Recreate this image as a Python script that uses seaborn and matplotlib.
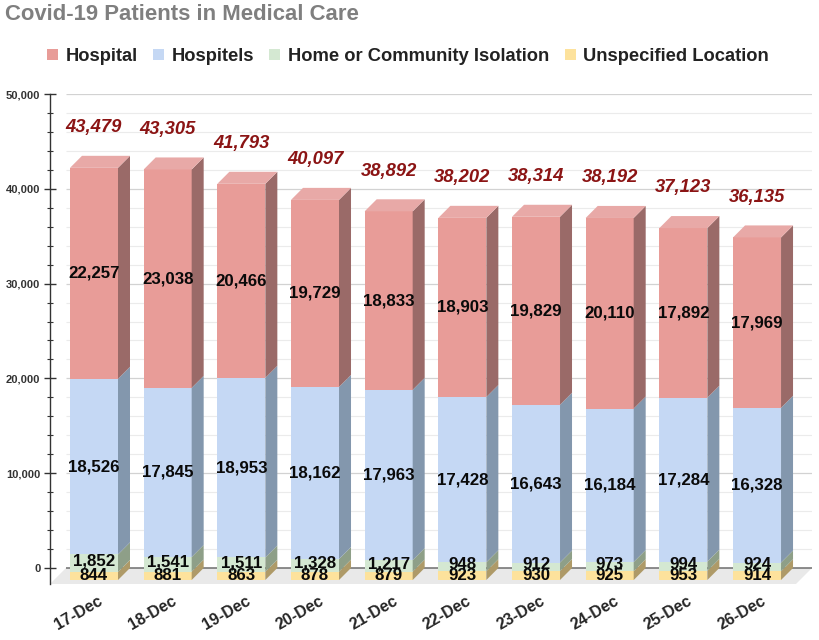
import numpy as np
import pandas as pd
import seaborn as sns
import matplotlib.pyplot as plt
from matplotlib.transforms import ScaledTranslation

days = ['17-Dec', '18-Dec', '19-Dec', '20-Dec', '21-Dec', '22-Dec', '23-Dec', '24-Dec', '25-Dec', '26-Dec']
hospital = [22257, 23038, 20466, 19729, 18833, 18903, 19829, 20110, 17892, 17969]
hospitels = [18526, 17845, 18953, 18162, 17963, 17428, 16643, 16184, 17284, 16328]
home = [1852, 1541, 1511, 1328, 1217, 948, 912, 973, 994, 924]
unspecified = [844, 881, 863, 878, 879, 923, 930, 925, 953, 914]
totals = [43479, 43305, 41793, 40097, 38892, 38202, 38314, 38192, 37123, 36135]

sns.set_theme(style="white")
plt.rcParams['font.family'] = ['Liberation Sans', 'DejaVu Sans']

df = pd.DataFrame({'day': days, 'Hospital': hospital, 'Hospitels': hospitels,
                   'Home or Community Isolation': home, 'Unspecified Location': unspecified})

# stacked from the bottom up: name, front, side, top
layers = [
    ('Unspecified Location', '#FDE29C', '#AE9A68', '#FDE9B8'),
    ('Home or Community Isolation', '#D4E8D2', '#8E9F88', '#E0EEDD'),
    ('Hospitels', '#C5D8F4', '#8397AD', '#D6E3F7'),
    ('Hospital', '#E89C98', '#9A6A68', '#E8A9A7'),
]

fig = plt.figure(figsize=(8.2, 6.4), dpi=100)
ax = fig.add_axes([50 / 820, (640 - 584) / 640, 762 / 820, 490 / 640])

# pixel scale of the chart: 473 px for 50,000 patients, 73.67 px per bar slot
px_y = 50000 / 473
px_x = 1 / 73.67
depth_x = 12 * px_x
depth_y = 12 * px_y
floor_x = 16 * px_x
floor_y = 16 * px_y
bar_w = 48 * px_x
base = -4 * px_y
xmin = -44 * px_x
xmax = xmin + 762 * px_x

bottom = np.zeros(len(days))
for name, front, side, top in layers:
    vals = df[name].to_numpy()
    sns.barplot(data=df, x='day', y=name, color=front, saturation=1, width=bar_w,
                bottom=bottom, label=name, linewidth=0, zorder=3, ax=ax)
    # the thin home band sits a little high so its label clears the one below
    nudge = 2 * px_y if name == 'Home or Community Isolation' else 0
    for i in range(len(days)):
        r = i + bar_w / 2
        ax.fill([r, r + depth_x, r + depth_x, r],
                [bottom[i], bottom[i] + depth_y, bottom[i] + vals[i] + depth_y, bottom[i] + vals[i]],
                color=side, lw=0, zorder=3)
        # labels
        ax.text(i, bottom[i] + vals[i] / 2 + nudge, f'{vals[i]:,}', ha='center', va='center',
                fontsize=12.2, fontweight='bold', color='#0a0a0a', zorder=6)
    bottom = bottom + vals

# top faces
for i in range(len(days)):
    l, r = i - bar_w / 2, i + bar_w / 2
    t = bottom[i]
    ax.fill([l, r, r + depth_x, l + depth_x], [t, t, t + depth_y, t + depth_y],
            color=layers[-1][3], lw=0, zorder=3)
    ax.annotate(f'{totals[i]:,}', (i, totals[i]), xytext=(0, 29), textcoords='offset points',
                ha='center', va='center', fontsize=13.2, fontweight='bold', fontstyle='italic',
                color='#8B1414', zorder=6)

ax.set_xlim(xmin, xmax)
ax.set_ylim(base, 50000 + depth_y)

# back wall and floor
ax.fill([xmin, xmax - floor_x, xmax, xmin + floor_x],
        [base, base, base + floor_y, base + floor_y], color='#E9E9E9', lw=0, zorder=1)
for v in range(0, 50001, 2000):
    if v == 0:
        c, lw = '#6E6E6E', 1.1
    elif v % 10000 == 0:
        c, lw = '#D2D2D2', 0.9
    else:
        c, lw = '#EBEBEB', 0.8
    ax.hlines(v + depth_y, xmin + floor_x, xmax, color=c, lw=lw, zorder=2)

for s in ['top', 'right', 'bottom']:
    ax.spines[s].set_visible(False)
ax.spines['left'].set_color('#333333')
ax.spines['left'].set_linewidth(1.0)

major = np.arange(0, 50001, 10000)
ax.set_yticks(major + depth_y, [f'{v:,}' for v in major], fontsize=8, fontweight='bold', color='#333333')
ax.set_yticks(np.arange(0, 50001, 2000) + depth_y, minor=True)
ax.tick_params(axis='y', which='major', direction='inout', length=8, width=1, color='#333333', left=True, pad=3)
ax.tick_params(axis='y', which='minor', direction='inout', length=4, width=0.8, color='#333333', left=True)

ax.set_xticks(range(len(days)), days)
ax.tick_params(axis='x', length=0, pad=7)
shift = ScaledTranslation(4 / 100, 0, fig.dpi_scale_trans)
for lab in ax.get_xticklabels():
    lab.set(rotation=30, ha='right', rotation_mode='anchor', fontsize=11.5, fontweight='bold', color='#262626')
    lab.set_transform(lab.get_transform() + shift)

ax.set_xlabel('')
ax.set_ylabel('')

handles, labels = ax.get_legend_handles_labels()
ax.get_legend().remove()
order = ['Hospital', 'Hospitels', 'Home or Community Isolation', 'Unspecified Location']
hl = dict(zip(labels, handles))
leg = fig.legend([hl[n] for n in order], order, ncol=4, frameon=False, loc='center left',
                 bbox_to_anchor=(47 / 820, 1 - 56.5 / 640), handlelength=0.6, handleheight=0.6,
                 handletextpad=0.4, columnspacing=0.85, borderpad=0, borderaxespad=0,
                 prop={'weight': 'bold', 'size': 13.2})
for t in leg.get_texts():
    t.set_color('#222222')

fig.text(5 / 820, 1 - 14 / 640, 'Covid-19 Patients in Medical Care', fontsize=15.9, fontweight='bold',
         color='#7F7F7F', ha='left', va='center')

fig.savefig('out.png', dpi=100)
